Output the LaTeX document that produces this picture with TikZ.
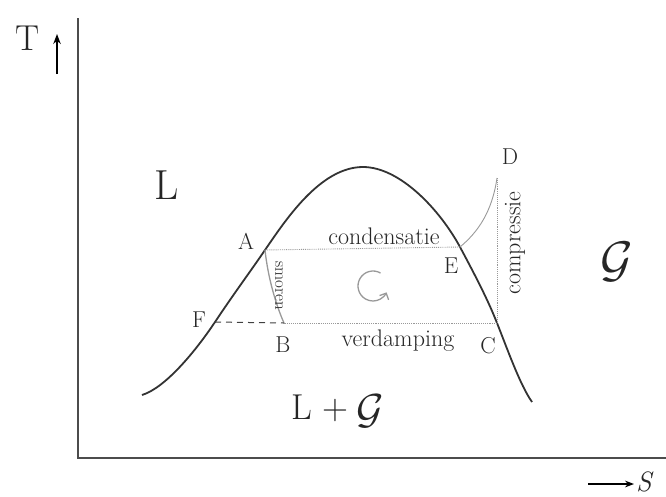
\documentclass[tikz,border=0pt]{standalone}
\usepackage{amsmath,amssymb}
\usepackage{tikz}
\usetikzlibrary{positioning,arrows.meta}

\newcommand{\gasG}[1]{\scalebox{#1}{$\mathcal{G}$}}

\begin{document}
\begin{tikzpicture}[x=1pt,y=-1pt]
    \tikzstyle{dome}=[draw=black!80, line width=1.8pt]
    \tikzstyle{axis}=[draw=black!70, line width=1.2pt]
    \tikzstyle{cycle}=[draw=black!40, line width=0.9pt]
    \tikzstyle{point}=[text=black!85, font=\fontsize{23}{23}\selectfont]
    \tikzstyle{proc}=[text=black!85, font=\fontsize{24}{24}\selectfont]
    \tikzstyle{phase}=[text=black!85, font=\fontsize{42}{42}\selectfont]

    \useasboundingbox (0,0) rectangle (666,496);

    % Axes
    \coordinate (O) at (78,458);
    \coordinate (Ytop) at (78,18);
    \coordinate (Xend) at (666,458);
    \draw[axis] (Ytop) -- (O) -- (Xend);
    \node[phase, font=\fontsize{36}{36}\selectfont] (T) at (28,38) {T};
    \coordinate (Ta) at (57,74);
    \coordinate (Tb) at (57,34);
    \draw[-{Stealth[length=10pt]}, line width=1.5pt] (Ta) -- (Tb);
    \coordinate (Sa) at (588,484);
    \coordinate (Sb) at (634,484);
    \draw[-{Stealth[length=9pt]}, line width=1.2pt] (Sa) -- (Sb);
    \node[phase, font=\fontsize{28}{28}\selectfont\itshape, anchor=west, inner sep=0pt] (S) at (636,482) {S};

    % Points of the cycle
    \coordinate (P0) at (142,395);
    \coordinate (F) at (215,322);
    \coordinate (A) at (265,250);
    \coordinate (Top) at (363,167);
    \coordinate (E) at (460,247);
    \coordinate (C) at (497,323);
    \coordinate (P1) at (532,402);
    \coordinate (B) at (284,323);
    \coordinate (D) at (497,178);

    % Saturation dome
    \draw[dome] (P0) .. controls (165,388) and (195,352) .. (F)
        .. controls (235,292) and (250,272) .. (A)
        .. controls (285,221) and (320,167) .. (Top)
        .. controls (400,167) and (440,210) .. (E)
        .. controls (475,275) and (488,300) .. (C)
        .. controls (507,348) and (520,385) .. (P1);

    % Cycle
    \draw[cycle, densely dotted] (A) -- (E);
    \draw[cycle] (E) .. controls (478,232) and (492,212) .. (D);
    \draw[cycle, densely dotted] (D) -- (C);
    \draw[cycle, densely dotted] (C) -- (B);
    \draw[cycle, line width=1.3pt] (A) .. controls (268,278) and (276,305) .. (B);
    \draw[black!75, line width=1pt, dash pattern=on 6pt off 5pt] (F) -- (B);

    % Direction of the cycle
    \coordinate (G0) at (373,286);
    \draw[cycle, line width=1.3pt, -{Straight Barb[length=5pt]}] ([shift={(-60:15)}]G0) arc[start angle=-60, end angle=-335, radius=15];

    % Point labels
    \node[point] (lA) at (246,241) {A};
    \node[point] (lB) at (283,345) {B};
    \node[point] (lC) at (488,346) {C};
    \node[point] (lD) at (510,157) {D};
    \node[point] (lE) at (451,266) {E};
    \node[point] (lF) at (199,320) {F};

    % Process labels
    \node[proc] (cond) at (384,236) {condensatie};
    \node[proc] (verd) at (398,341) {verdamping};
    \node[proc, rotate=90] (comp) at (515,243) {compressie};
    \node[proc, rotate=-90, font=\fontsize{17}{17}\selectfont] (smor) at (279,286) {smoren};

    % Phase labels
    \node[phase] (L) at (167,185) {L};
    \node[phase, font=\fontsize{36}{36}\selectfont] (LGl) at (320,408) {L +};
    \node[text=black!85, right=1pt of LGl, yshift=-3pt] (LGg) {\gasG{4.2}};
    \node[text=black!85] (G) at (617,262) {\gasG{5}};
\end{tikzpicture}
\end{document}
